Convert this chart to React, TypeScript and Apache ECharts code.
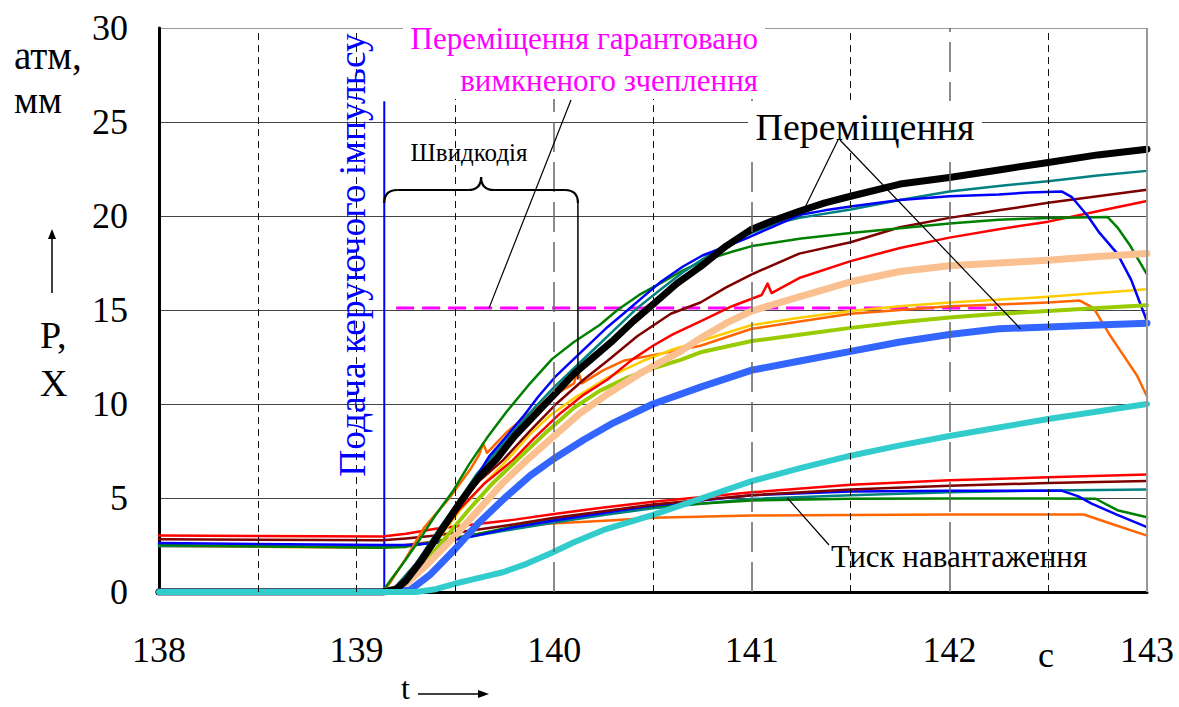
import React, { useEffect, useRef } from "react";
import * as echarts from "echarts";

const FONT = "Liberation Serif";

// ---- axis ----
const xMin = 138;
const xMax = 143;
const yMin = 0;
const yMax = 30;
const yStep = 5;
const halfSecondLines = [138.5, 139, 139.5, 140.5, 141.5, 142.5];
const wholeSecondLines = [140, 141, 142];

// ---- annotations (data units) ----
const impulseTime = 139.14;
const impulseTop = 26.1;
const clutchLevel = 15.1;
const clutchSpan = [139.2, 142.24];
const clutchLeaderEnd = [139.67, 15.1];
const speedEnd = [140.12, 11.3];
const dispLeaderEnds = [
  [141.26, 20.25],
  [142.36, 14.0],
];
const pressLeaderEnd = [141.18, 5.0];

// ---- displacement curves [t, mm] ----
const dispBlack = [
  [138, 0], [139.13, 0], [139.2, 0.15], [139.25, 0.6], [139.33, 1.7], [139.43, 3.3], [139.52, 4.7],
  [139.61, 6.0], [139.71, 7.1], [139.8, 8.3], [139.9, 9.4], [140, 10.5], [140.1, 11.6], [140.2, 12.5],
  [140.3, 13.4], [140.4, 14.4], [140.5, 15.3], [140.62, 16.4], [140.74, 17.3], [140.87, 18.4],
  [141, 19.3], [141.12, 19.8], [141.24, 20.25], [141.37, 20.7], [141.5, 21.05], [141.75, 21.7],
  [142, 22.05], [142.25, 22.45], [142.5, 22.85], [142.75, 23.25], [143, 23.55],
];
const dispBlue = [
  [138, 0], [139.13, 0], [139.22, 0.3], [139.32, 1.3], [139.42, 3.0], [139.51, 4.5], [139.6, 6.0],
  [139.67, 7.2], [139.76, 8.3], [139.84, 9.3], [139.92, 10.4], [140.01, 11.5], [140.1, 12.4],
  [140.18, 13.2], [140.27, 14.1], [140.35, 14.8], [140.45, 15.7], [140.54, 16.5], [140.65, 17.3],
  [140.75, 17.9], [140.85, 18.3], [140.97, 18.8], [141.1, 19.4], [141.24, 20.05], [141.37, 20.3],
  [141.5, 20.5], [141.75, 20.85], [142, 21.05], [142.25, 21.15], [142.4, 21.25], [142.57, 21.3],
  [142.62, 21.0], [142.7, 20.0], [142.76, 19.1], [142.85, 18.0], [142.92, 16.6], [143, 14.4],
];
const dispTeal = [
  [138, 0], [139.13, 0], [139.2, 0.3], [139.3, 1.5], [139.42, 3.4], [139.52, 4.9], [139.61, 6.3],
  [139.71, 7.5], [139.8, 8.6], [139.9, 9.8], [140, 10.9], [140.1, 11.9], [140.2, 12.9], [140.3, 13.9],
  [140.42, 15.1], [140.54, 16.1], [140.65, 17.0], [140.75, 17.7], [140.87, 18.5], [141, 19.1],
  [141.12, 19.6], [141.24, 19.9], [141.5, 20.35], [141.75, 20.85], [142, 21.3], [142.25, 21.6],
  [142.5, 21.85], [142.75, 22.15], [143, 22.4],
];
const dispGreen = [
  [138, 0], [139.13, 0], [139.17, 0.6], [139.24, 1.6], [139.32, 2.8], [139.4, 4.1], [139.49, 5.4],
  [139.57, 6.8], [139.66, 8.2], [139.76, 9.6], [139.87, 11.0], [139.99, 12.4], [140.1, 13.3],
  [140.23, 14.2], [140.32, 15.0], [140.43, 15.8], [140.55, 16.5], [140.65, 17.1], [140.75, 17.6],
  [140.9, 18.1], [141, 18.4], [141.25, 18.8], [141.5, 19.1], [141.75, 19.35], [142, 19.6],
  [142.25, 19.8], [142.5, 19.9], [142.8, 19.95], [142.85, 19.4], [142.91, 18.5], [143, 16.9],
];
const dispDarkRed = [
  [138, 0], [139.13, 0], [139.2, 0.3], [139.3, 1.5], [139.42, 3.3], [139.52, 4.7], [139.62, 5.9],
  [139.74, 7.0], [139.88, 8.6], [140.01, 10.0], [140.15, 11.3], [140.27, 12.3], [140.42, 13.6],
  [140.59, 14.8], [140.74, 15.4], [140.87, 16.2], [141, 16.9], [141.24, 18.0], [141.5, 18.6],
  [141.75, 19.4], [142, 19.9], [142.25, 20.3], [142.5, 20.7], [142.75, 21.05], [143, 21.4],
];
const dispRed = [
  [138, 0], [139.13, 0], [139.2, 0.2], [139.3, 1.3], [139.42, 3.0], [139.52, 4.4], [139.65, 5.8],
  [139.79, 7.0], [139.9, 8.2], [140.03, 9.5], [140.15, 10.5], [140.27, 11.3], [140.4, 12.4],
  [140.5, 13.1], [140.6, 13.7], [140.74, 14.4], [140.9, 15.2], [141.05, 15.8], [141.08, 16.4],
  [141.1, 15.9], [141.24, 16.7], [141.5, 17.6], [141.75, 18.3], [142, 18.85], [142.25, 19.3],
  [142.5, 19.7], [142.75, 20.25], [143, 20.8],
];
const dispYellow = [
  [138, 0], [139.13, 0], [139.2, 0.2], [139.3, 1.2], [139.42, 2.9], [139.52, 4.3], [139.64, 5.7],
  [139.76, 7.0], [139.87, 8.3], [139.98, 9.4], [140.1, 10.3], [140.27, 11.4], [140.45, 12.3],
  [140.6, 12.9], [140.74, 13.35], [141, 14.2], [141.25, 14.6], [141.5, 14.95], [141.75, 15.2],
  [142, 15.4], [142.5, 15.7], [142.75, 15.9], [143, 16.1],
];
const dispOrange = [
  [138, 0], [139.13, 0], [139.17, 0.5], [139.25, 1.8], [139.34, 3.4], [139.47, 5.0], [139.58, 6.6],
  [139.62, 7.3], [139.64, 7.9], [139.66, 7.4], [139.76, 8.5], [139.94, 10.1], [140.1, 11.1],
  [140.12, 11.8], [140.14, 11.1], [140.25, 11.8], [140.35, 12.3], [140.6, 12.8], [140.74, 13.1],
  [141, 14.0], [141.25, 14.4], [141.5, 14.8], [141.75, 15.0], [142, 15.2], [142.5, 15.4],
  [142.66, 15.5], [142.73, 15.1], [142.81, 13.7], [142.88, 12.6], [142.95, 11.5], [143, 10.4],
];
const dispYellowGreen = [
  [138, 0], [139.13, 0], [139.22, 0.2], [139.32, 1.2], [139.45, 2.9], [139.57, 4.4], [139.69, 5.8],
  [139.81, 7.0], [139.95, 8.4], [140.1, 9.8], [140.23, 10.7], [140.37, 11.4], [140.5, 11.9],
  [140.64, 12.35], [140.74, 12.75], [141, 13.35], [141.25, 13.7], [141.5, 14.05], [141.75, 14.35],
  [142, 14.6], [142.25, 14.8], [142.5, 14.95], [142.75, 15.1], [143, 15.25],
];
const dispPeach = [
  [138, 0], [139.13, 0], [139.23, 0.25], [139.35, 1.4], [139.49, 2.9], [139.62, 4.4], [139.74, 5.8],
  [139.86, 7.0], [140, 8.3], [140.13, 9.5], [140.28, 10.6], [140.43, 11.6], [140.55, 12.3],
  [140.64, 12.8], [140.74, 13.5], [140.87, 14.3], [141, 14.95], [141.24, 15.7], [141.5, 16.5],
  [141.75, 17.05], [142, 17.35], [142.25, 17.5], [142.5, 17.65], [142.75, 17.85], [143, 18.0],
];
const dispRoyal = [
  [138, 0], [139.13, 0], [139.27, 0.1], [139.37, 0.9], [139.5, 2.3], [139.62, 3.7], [139.75, 5.0],
  [139.88, 6.2], [140, 7.1], [140.15, 8.1], [140.3, 9.0], [140.5, 10.0], [140.74, 10.9],
  [141, 11.8], [141.25, 12.3], [141.5, 12.8], [141.75, 13.3], [142, 13.7], [142.25, 14.0],
  [142.5, 14.1], [142.75, 14.2], [143, 14.3],
];
const dispTurquoise = [
  [138, 0], [139.3, 0], [139.4, 0.15], [139.5, 0.45], [139.62, 0.75], [139.74, 1.05], [139.86, 1.5],
  [139.98, 2.05], [140.1, 2.65], [140.25, 3.3], [140.5, 4.1], [140.75, 5.0], [141, 5.9],
  [141.25, 6.6], [141.5, 7.25], [141.75, 7.8], [142, 8.3], [142.25, 8.75], [142.5, 9.2],
  [142.75, 9.6], [143, 10.0],
];

// ---- load pressure curves [t, atm] ----
const pressRed = [
  [138, 3.0], [139.13, 2.95], [139.25, 3.1], [139.4, 3.37], [139.6, 3.6], [139.8, 3.85], [140, 4.15],
  [140.25, 4.5], [140.5, 4.8], [141, 5.3], [141.5, 5.7], [142, 5.95], [142.5, 6.1], [143, 6.25],
];
const pressDarkRed = [
  [138, 2.8], [139.13, 2.75], [139.25, 2.85], [139.4, 3.0], [139.6, 3.3], [139.8, 3.6], [140, 3.95],
  [140.25, 4.3], [140.5, 4.65], [141, 5.15], [141.5, 5.45], [142, 5.65], [142.5, 5.8], [143, 5.9],
];
const pressBlue = [
  [138, 2.6], [139.13, 2.5], [139.25, 2.5], [139.4, 2.6], [139.57, 2.92], [139.8, 3.45], [140, 3.8],
  [140.25, 4.2], [140.5, 4.6], [141, 5.15], [141.5, 5.35], [142, 5.38], [142.57, 5.38], [142.65, 5.1],
  [142.72, 4.7], [142.85, 4.1], [143, 3.45],
];
const pressGreen = [
  [138, 2.5], [139.13, 2.35], [139.25, 2.4], [139.4, 2.7], [139.57, 3.0], [139.8, 3.5], [140, 3.85],
  [140.25, 4.25], [140.5, 4.55], [141, 4.87], [141.5, 4.96], [142, 4.98], [142.5, 4.98],
  [142.74, 4.96], [142.85, 4.35], [143, 3.98],
];
const pressTeal = [
  [138, 2.45], [139.13, 2.4], [139.3, 2.5], [139.5, 2.8], [139.8, 3.35], [140, 3.7], [140.25, 4.1],
  [140.5, 4.45], [141, 4.95], [141.5, 5.15], [142, 5.3], [142.5, 5.4], [143, 5.45],
];
const pressOrange = [
  [138, 2.45], [139.13, 2.35], [139.4, 2.7], [139.7, 3.25], [139.96, 3.63], [140.28, 3.8],
  [140.5, 3.95], [141, 4.07], [141.5, 4.1], [142, 4.12], [142.68, 4.12], [142.8, 3.7], [143, 3.0],
];

function lineSeries(name: string, data: number[][], color: string, width: number) {
  return {
    type: "line",
    name,
    data,
    symbol: "none",
    showSymbol: false,
    silent: true,
    lineStyle: { color, width, cap: "round", join: "round" },
    itemStyle: { color },
  };
}

function txt(x: number, y: number, text: string, size: number, fill: string, align: string, extra: any = {}) {
  return {
    type: "text",
    z: 6,
    x,
    y,
    ...extra,
    style: { text, fontSize: size, fontFamily: FONT, fill, align, verticalAlign: "middle" },
  };
}

export default function App() {
  const ref = useRef<HTMLDivElement>(null);

  useEffect(() => {
    document.body.style.margin = "0";
    if (!ref.current) return;
    const chart = echarts.init(ref.current, null, { renderer: "svg" });

    const gridMarks = [
      ...halfSecondLines.map((t) => ({
        xAxis: t,
        lineStyle: { color: "#111", width: 1, type: [7, 5] },
      })),
      ...wholeSecondLines.map((t) => ({
        xAxis: t,
        lineStyle: { color: "#666", width: 1.5, type: [30, 10] },
      })),
      { xAxis: xMax, lineStyle: { color: "#999", width: 2, type: "solid" } },
    ];

    const series: any[] = [
      {
        type: "line",
        name: "grid",
        data: [],
        z: 1,
        silent: true,
        markLine: {
          symbol: "none",
          silent: true,
          label: { show: false },
          emphasis: { disabled: true },
          data: gridMarks,
        },
      },
      {
        type: "line",
        name: "impulse",
        data: [
          [impulseTime, 0],
          [impulseTime, impulseTop],
        ],
        symbol: "none",
        silent: true,
        lineStyle: { color: "#0000ff", width: 2 },
      },
      {
        type: "line",
        name: "clutch",
        data: [
          [clutchSpan[0], clutchLevel],
          [clutchSpan[1], clutchLevel],
        ],
        symbol: "none",
        silent: true,
        lineStyle: { color: "#ff00ff", width: 3, type: [18, 8] },
      },
      lineSeries("pOrange", pressOrange, "#ff6600", 2.5),
      lineSeries("pTeal", pressTeal, "#008080", 2.5),
      lineSeries("pGreen", pressGreen, "#008000", 2.5),
      lineSeries("pBlue", pressBlue, "#0000ff", 2.5),
      lineSeries("pDarkRed", pressDarkRed, "#800000", 2.5),
      lineSeries("pRed", pressRed, "#ff0000", 2.5),
      lineSeries("xOrange", dispOrange, "#ff6600", 2.5),
      lineSeries("xYellow", dispYellow, "#ffcc00", 2.5),
      lineSeries("xRed", dispRed, "#ff0000", 2.5),
      lineSeries("xDarkRed", dispDarkRed, "#800000", 2.5),
      lineSeries("xGreen", dispGreen, "#008000", 2.5),
      lineSeries("xTeal", dispTeal, "#008080", 2.5),
      lineSeries("xBlue", dispBlue, "#0000ff", 2.5),
      lineSeries("xYellowGreen", dispYellowGreen, "#99cc00", 4),
      lineSeries("xPeach", dispPeach, "#fac090", 7),
      lineSeries("xRoyal", dispRoyal, "#3366ff", 7),
      lineSeries("xBlack", dispBlack, "#000000", 7),
      lineSeries("xTurquoise", dispTurquoise, "#33cccc", 6),
    ];

    chart.setOption({
      animation: false,
      backgroundColor: "#ffffff",
      textStyle: { fontFamily: FONT },
      grid: { left: 159, right: 32, top: 28, bottom: 115, containLabel: false },
      xAxis: {
        type: "value",
        min: xMin,
        max: xMax,
        interval: 1,
        axisLine: { show: true, onZero: false, lineStyle: { color: "#000", width: 3 } },
        axisTick: { show: false },
        splitLine: { show: false },
        axisLabel: { fontFamily: FONT, fontSize: 36, color: "#000", margin: 40 },
      },
      yAxis: {
        type: "value",
        min: yMin,
        max: yMax,
        interval: yStep,
        axisLine: { show: true, lineStyle: { color: "#000", width: 3 } },
        axisTick: { show: false },
        splitLine: {
          show: true,
          lineStyle: {
            color: ["#444", "#444", "#444", "#444", "#444", "#444", "#999"],
            width: 1.2,
          },
        },
        axisLabel: { fontFamily: FONT, fontSize: 36, color: "#000", margin: 31 },
      },
      series,
    });

    const px = (p: number[]) =>
      chart.convertToPixel({ xAxisIndex: 0, yAxisIndex: 0 }, p) as number[];

    const leftX = px([impulseTime, 0])[0];
    const sEnd = px(speedEnd);
    const rightX = sEnd[0];
    const midX = (leftX + rightX) / 2;
    const braceY = 190;
    const r = 13;
    const black = { stroke: "#000", lineWidth: 2.2, fill: "none" };
    const thin = { stroke: "#000", lineWidth: 1.2 };
    const clutchEnd = px(clutchLeaderEnd);
    const d1 = px(dispLeaderEnds[0]);
    const d2 = px(dispLeaderEnds[1]);
    const pEnd = px(pressLeaderEnd);

    const graphic: any[] = [
      { type: "rect", z: 5, shape: { x: 403, y: 10, width: 362, height: 89 }, style: { fill: "#fff" } },
      { type: "rect", z: 5, shape: { x: 748, y: 101, width: 234, height: 51 }, style: { fill: "#fff" } },
      txt(14, 55, "атм,", 39, "#000", "left"),
      txt(14, 100, "мм", 38, "#000", "left"),
      { type: "line", z: 6, shape: { x1: 52, y1: 293, x2: 52, y2: 236 }, style: { stroke: "#000", lineWidth: 1.5 } },
      { type: "polygon", z: 6, shape: { points: [[48, 239], [56, 239], [52, 229]] }, style: { fill: "#000" } },
      txt(40, 335, "P,", 38, "#000", "left"),
      txt(40, 383, "X", 38, "#000", "left"),
      txt(1046, 655, "c", 36, "#000", "center"),
      txt(401, 688, "t", 32, "#000", "left"),
      { type: "line", z: 6, shape: { x1: 418, y1: 694, x2: 480, y2: 694 }, style: { stroke: "#000", lineWidth: 1.5 } },
      { type: "polygon", z: 6, shape: { points: [[478, 690], [478, 698], [489, 694]] }, style: { fill: "#000" } },
      txt(352, 255, "Подача керуючого імпульсу", 37.5, "#0000ff", "center", { rotation: Math.PI / 2 }),
      txt(758, 38, "Переміщення гарантовано", 31, "#ff00ff", "right"),
      txt(758, 80, "вимкненого зчеплення", 31, "#ff00ff", "right"),
      { type: "line", z: 6, shape: { x1: 571, y1: 100, x2: clutchEnd[0], y2: clutchEnd[1] }, style: thin },
      txt(midX - 12, 152, "Швидкодія", 25, "#000", "center"),
      { type: "bezierCurve", z: 6, shape: { x1: leftX, y1: braceY + r, cpx1: leftX, cpy1: braceY, x2: leftX + r, y2: braceY }, style: black },
      { type: "line", z: 6, shape: { x1: leftX + r, y1: braceY, x2: midX - r, y2: braceY }, style: black },
      { type: "bezierCurve", z: 6, shape: { x1: midX - r, y1: braceY, cpx1: midX, cpy1: braceY, x2: midX, y2: braceY - r }, style: black },
      { type: "bezierCurve", z: 6, shape: { x1: midX, y1: braceY - r, cpx1: midX, cpy1: braceY, x2: midX + r, y2: braceY }, style: black },
      { type: "line", z: 6, shape: { x1: midX + r, y1: braceY, x2: rightX - r, y2: braceY }, style: black },
      { type: "bezierCurve", z: 6, shape: { x1: rightX - r, y1: braceY, cpx1: rightX, cpy1: braceY, x2: rightX, y2: braceY + r }, style: black },
      { type: "line", z: 6, shape: { x1: rightX, y1: braceY + r, x2: rightX, y2: sEnd[1] }, style: { stroke: "#000", lineWidth: 1.5 } },
      txt(865, 127, "Переміщення", 38, "#000", "center"),
      { type: "line", z: 6, shape: { x1: 838, y1: 140, x2: d1[0], y2: d1[1] }, style: thin },
      { type: "line", z: 6, shape: { x1: 840, y1: 140, x2: d2[0], y2: d2[1] }, style: thin },
      txt(831, 556, "Тиск навантаження", 31, "#000", "left"),
      { type: "line", z: 6, shape: { x1: 829, y1: 545, x2: pEnd[0], y2: pEnd[1] }, style: thin },
    ];

    chart.setOption({ graphic });

    return () => {
      chart.dispose();
    };
  }, []);

  return <div ref={ref} style={{ width: 1179, height: 707 }} />;
}
